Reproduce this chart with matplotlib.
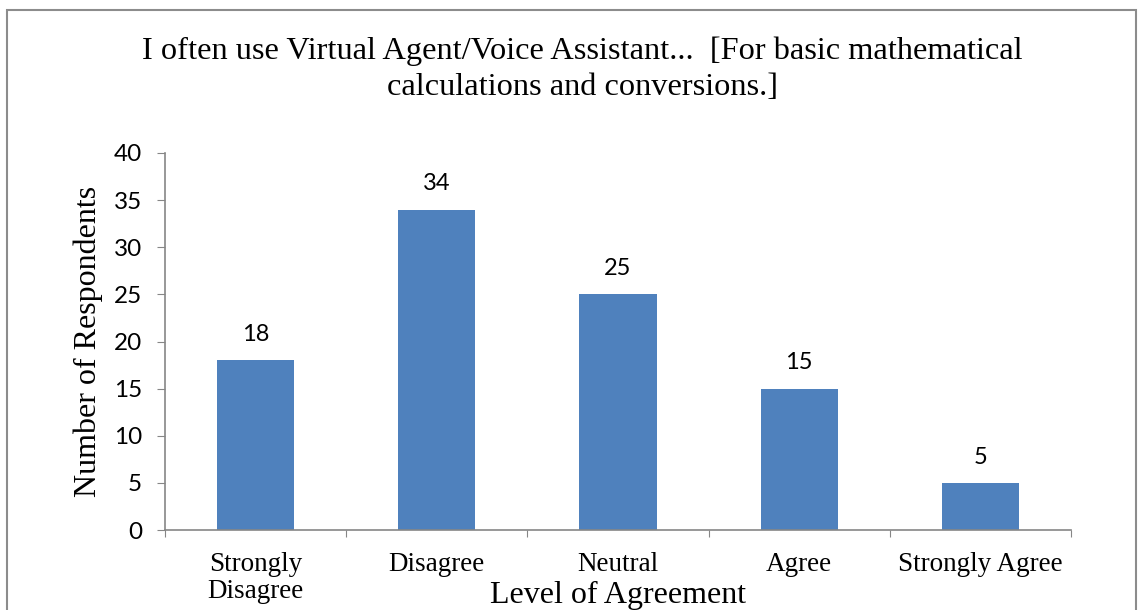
import matplotlib.pyplot as plt
from matplotlib.patches import Rectangle

categories = ['Strongly\nDisagree', 'Disagree', 'Neutral', 'Agree', 'Strongly Agree']
counts = [18, 34, 25, 15, 5]

serif = 'Liberation Serif'
sans = 'Lato'
axis_gray = '#868686'

fig = plt.figure(figsize=(11.4, 6.1), dpi=100)
ax = fig.add_axes([0.1447, 0.1311, 0.7948, 0.6181])

x = range(len(categories))
bars = ax.bar(x, counts, width=0.425, color='#4F81BD')

for b, v in zip(bars, counts):
    ax.annotate(str(v), (b.get_x() + b.get_width() / 2, v),
                xytext=(0, 11), textcoords='offset points',
                ha='center', va='bottom', fontsize=17, family=sans)

ax.set_xlim(-0.5, len(categories) - 0.5)
ax.set_ylim(0, 40)
ax.set_yticks(range(0, 41, 5))
ax.tick_params(axis='y', labelsize=17.5, direction='out', length=5.5,
               color=axis_gray, pad=11)
for t in ax.get_yticklabels():
    t.set_family(sans)

# category labels sit between boundary ticks
ax.set_xticks([i - 0.5 for i in range(len(categories) + 1)])
ax.set_xticklabels([])
ax.set_xticks(list(x), minor=True)
ax.set_xticklabels(categories, minor=True, family=serif, fontsize=19.5,
                   va='top', linespacing=1.1)
ax.tick_params(axis='x', which='major', direction='out', length=5,
               color=axis_gray)
ax.tick_params(axis='x', which='minor', length=0, pad=16)

for s in ['top', 'right']:
    ax.spines[s].set_visible(False)
for s in ['left', 'bottom']:
    ax.spines[s].set_color(axis_gray)
    ax.spines[s].set_linewidth(1.2)

ax.set_ylabel('Number of Respondents', family=serif, fontsize=23)
ax.yaxis.set_label_coords(-0.068, 0.5)
ax.set_xlabel('Level of Agreement', family=serif, fontsize=23)
ax.xaxis.set_label_coords(0.5, -0.135)

fig.suptitle('I often use Virtual Agent/Voice Assistant...  [For basic mathematical\n'
             'calculations and conversions.]',
             x=0.511, y=0.94, family=serif, fontsize=23.3, linespacing=1.3)

# outer chart frame
fig.patches.append(Rectangle((7 / 1140, -0.05), 1129 / 1140, 1 - 10 / 610 + 0.05,
                             transform=fig.transFigure, fill=False,
                             edgecolor='#8c8c8c', linewidth=1.5))

fig.savefig('out.png', dpi=100)
